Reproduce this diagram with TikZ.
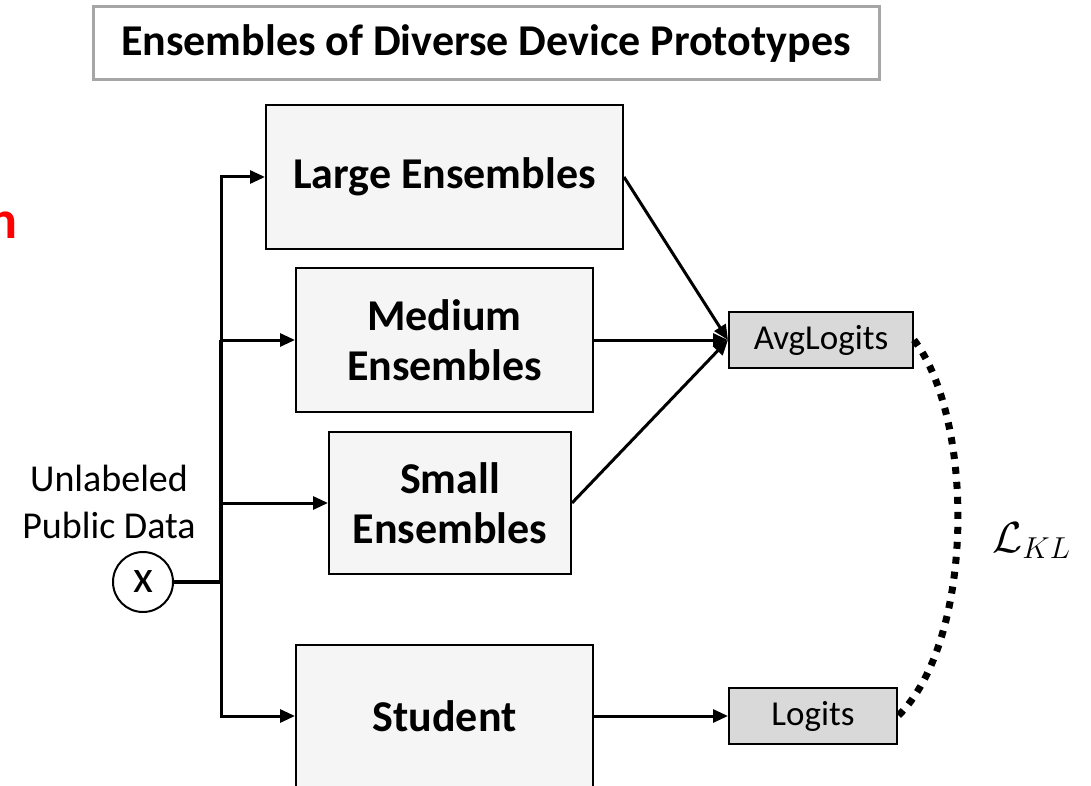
\documentclass[tikz,border=0pt]{standalone}
\usepackage{fontspec}
\setmainfont{Carlito}
\usepackage{xcolor}
\usetikzlibrary{
  positioning,
  arrows.meta
}
\definecolor{boxgray}{HTML}{F5F5F5}
\definecolor{logitgray}{HTML}{D9D9D9}
\definecolor{framegray}{HTML}{A6A6A6}
\newcommand{\boxfont}{\fontsize{44}{50}\selectfont\bfseries}
\newcommand{\smallfont}{\fontsize{35}{40}\selectfont}
\newcommand{\labelfont}{\fontsize{38}{47}\selectfont}
\tikzstyle{arr}=[-{Triangle[length=15pt,width=13pt]}, line width=3pt]
\tikzstyle{ens}=[draw, line width=2pt, fill=boxgray, align=center, font=\boxfont, inner sep=0pt]
\tikzstyle{logit}=[draw, line width=2pt, fill=logitgray, font=\smallfont, inner sep=0pt]
\tikzstyle{kl}=[line width=7pt, dash pattern=on 7pt off 8pt]

\begin{document}
\begin{tikzpicture}[x=1pt,y=-1pt]
    % 描画範囲
    \useasboundingbox (0,0) rectangle (1091,786);
    \clip (0,0) rectangle (1091,786);

    % タイトル
    \node[draw=framegray, line width=3pt, minimum width=786pt, minimum height=73pt,
      font=\fontsize{44}{50}\selectfont\bfseries] (title) at (486,43.5) {Ensembles of Diverse Device Prototypes};
    % 左端の赤い文字
    \node[anchor=base east, inner sep=0pt, text=red,
      font=\fontsize{54}{60}\selectfont\bfseries] (cut) at (18,239) {h};

    % 入力x
    \node[draw, circle, line width=2pt, minimum size=60pt, inner sep=0pt,
      font=\fontsize{46}{50}\selectfont] (x) at (143,582) {x};
    \node[align=center, font=\labelfont] (data) at (109,502) {Unlabeled\\Public Data};

    % アンサンブルと生徒
    \node[ens, minimum width=357pt, minimum height=144pt] (large) at (444.5,177) {Large Ensembles};
    \node[ens, minimum width=297pt, minimum height=144pt] (medium) at (444.5,340) {Medium\\Ensembles};
    \node[ens, minimum width=242pt, minimum height=142pt] (small) at (450,503) {Small\\Ensembles};
    \node[ens, minimum width=297pt, minimum height=143pt] (student) at (444.5,716) {Student};

    % ロジット
    \node[logit, minimum width=184pt, minimum height=56pt] (avg) at (821,340) {AvgLogits};
    \node[logit, minimum width=168pt, minimum height=56pt] (logits) at (813,716) {Logits};

    % 分岐点
    \coordinate (split) at (221,582);
    \draw[line width=4.5pt] (x.east) -- (split);
    \draw[line width=4.5pt] (split) -- (split |- medium.west);
    \draw[arr] (split) |- (large.west);
    \draw[arr] (split) |- (medium.west);
    \draw[arr] (split) |- (small.west);
    \draw[arr] (split) |- (student.west);

    % 平均ロジットへ
    \draw[arr] (large.east) -- (avg.west);
    \draw[arr] (medium.east) -- (avg.west);
    \draw[arr] (small.east) -- (avg.west);
    \draw[arr] (student.east) -- (logits.west);

    % KL損失
    \draw[kl] (avg.east) .. controls (975,420) and (975,640) .. (logits.east);
    \node[anchor=base west, inner sep=0pt, scale=2.1, transform shape,
      font=\fontsize{22}{26}\selectfont] (loss) at (992,552) {$\mathcal{L}_{KL}$};
\end{tikzpicture}
\end{document}
